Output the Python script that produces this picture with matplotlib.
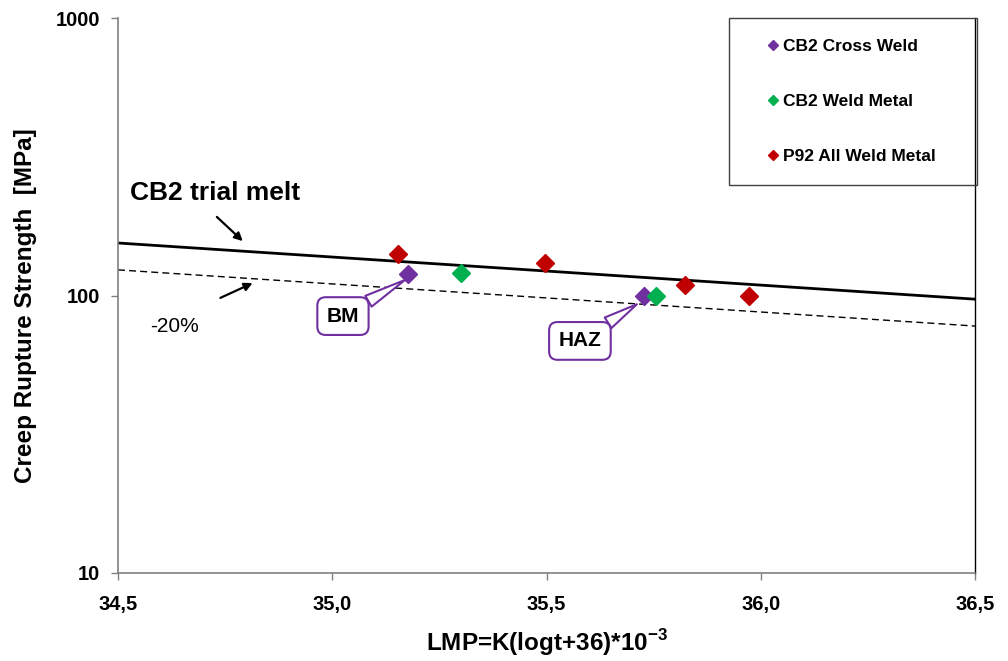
import matplotlib
matplotlib.use("Agg")
import matplotlib.pyplot as plt
from matplotlib.patches import Rectangle
from matplotlib.lines import Line2D

# ---- data ----
cross_x = [35.177, 35.727]
cross_y = [120, 100]
weldm_x = [35.30, 35.756]
weldm_y = [120.5, 100]
p92_x = [35.153, 35.497, 35.823, 35.973]
p92_y = [141, 131, 109, 100]

trial_x = [34.5, 35.0, 35.5, 36.0, 36.5]
trial_y = [154.6, 137.6, 122.5, 109.0, 97.0]
minus20_y = [123.7, 110.1, 98.0, 87.2, 77.6]

xticks = [34.5, 35.0, 35.5, 36.0, 36.5]
xtick_labels = ["34,5", "35,0", "35,5", "36,0", "36,5"]
yticks = [10, 100, 1000]
ytick_labels = ["10", "100", "1000"]

legend_labels = ["CB2 Cross Weld", "CB2 Weld Metal", "P92 All Weld Metal"]
c_purple = "#7030A0"
c_green = "#00B050"
c_red = "#C00000"

plt.rcParams["font.family"] = ["Liberation Sans", "DejaVu Sans"]
plt.rcParams["mathtext.fontset"] = "custom"
plt.rcParams["mathtext.rm"] = "Liberation Sans"
plt.rcParams["mathtext.bf"] = "Liberation Sans:bold"

fig = plt.figure(figsize=(10.08, 6.61), dpi=100)
ax = fig.add_axes([118/1008, 1-573/661, (975-118)/1008, (573-18)/661])

ax.set_yscale("log")
ax.set_xlim(34.5, 36.5)
ax.set_ylim(10, 1000)

ax.plot(trial_x, trial_y, color="black", lw=2.0, zorder=2)
ax.plot(trial_x, minus20_y, color="black", lw=1.0, ls=(0, (5, 3)), zorder=2)

ms = 9
ax.plot(cross_x, cross_y, ls="none", marker="D", ms=ms, color=c_purple, zorder=4)
ax.plot(weldm_x, weldm_y, ls="none", marker="D", ms=ms, color=c_green, zorder=4)
ax.plot(p92_x, p92_y, ls="none", marker="D", ms=ms, color=c_red, zorder=4)

ax.set_xticks(xticks)
ax.set_xticklabels(xtick_labels, fontsize=14.5, fontweight="bold")
ax.set_yticks(yticks)
ax.set_yticklabels(ytick_labels, fontsize=14.5, fontweight="bold")
ax.minorticks_off()
ax.tick_params(axis="x", direction="out", length=5, width=1, color="#808080", pad=11)
ax.tick_params(axis="y", direction="out", length=5, width=1, color="#808080", pad=8)

for s in ["left", "bottom"]:
    ax.spines[s].set_color("#808080")
    ax.spines[s].set_linewidth(1.2)
ax.spines["right"].set_color("black")
ax.spines["right"].set_linewidth(1.0)
ax.spines["top"].set_visible(False)

ax.set_ylabel("Creep Rupture Strength  [MPa]", fontsize=17.5, fontweight="bold")
ax.yaxis.set_label_coords(-0.0945, 0.481)
ax.set_xlabel(r"LMP=K(logt+36)*10$^{\mathbf{-3}}$", fontsize=17.5, fontweight="bold", labelpad=9)

# text annotations
ax.text(34.528, 234, "CB2 trial melt", fontsize=19, fontweight="bold", ha="left", va="center")
ax.annotate("", xy=(34.796, 154.6), xytext=(34.726, 195),
            arrowprops=dict(arrowstyle="-|>", color="black", lw=1.6, mutation_scale=12))
ax.text(34.575, 77.0, "-20%", fontsize=15, ha="left", va="center")
ax.annotate("", xy=(34.82, 111.9), xytext=(34.733, 97.1),
            arrowprops=dict(arrowstyle="-|>", color="black", lw=1.6, mutation_scale=12))

bubble = dict(boxstyle="round,pad=0.45,rounding_size=0.4", fc="white", ec=c_purple, lw=1.5)
ax.annotate("BM", xy=(35.17, 113.8), xytext=(35.025, 84.3), fontsize=15, fontweight="bold",
            ha="center", va="center", bbox=bubble,
            arrowprops=dict(arrowstyle="wedge,tail_width=0.6,shrink_factor=0.5",
                            fc="white", ec=c_purple, lw=1.5, shrinkA=0, shrinkB=0), zorder=5)
ax.annotate("HAZ", xy=(35.711, 93), xytext=(35.578, 68.6), fontsize=15, fontweight="bold",
            ha="center", va="center", bbox=bubble,
            arrowprops=dict(arrowstyle="wedge,tail_width=0.6,shrink_factor=0.5",
                            fc="white", ec=c_purple, lw=1.5, shrinkA=0, shrinkB=0), zorder=5)

# legend box
lx0 = (729-118)/857
ly0 = (573-185)/555
ax.add_patch(Rectangle((lx0, ly0), 1.0 - lx0 + 0.002, 1.0 - ly0, transform=ax.transAxes,
                       fill=False, ec="#404040", lw=1.0, clip_on=False, zorder=6))
handles = [Line2D([], [], ls="none", marker="D", ms=5.5, color=c) for c in (c_purple, c_green, c_red)]
ax.legend(handles, legend_labels, loc="center", bbox_to_anchor=(lx0, ly0, 1-lx0, 1-ly0),
          frameon=False, prop=dict(weight="bold", size=12.5), labelspacing=2.3,
          handlelength=0.6, handletextpad=0.3)

fig.savefig("out.png", dpi=100)
